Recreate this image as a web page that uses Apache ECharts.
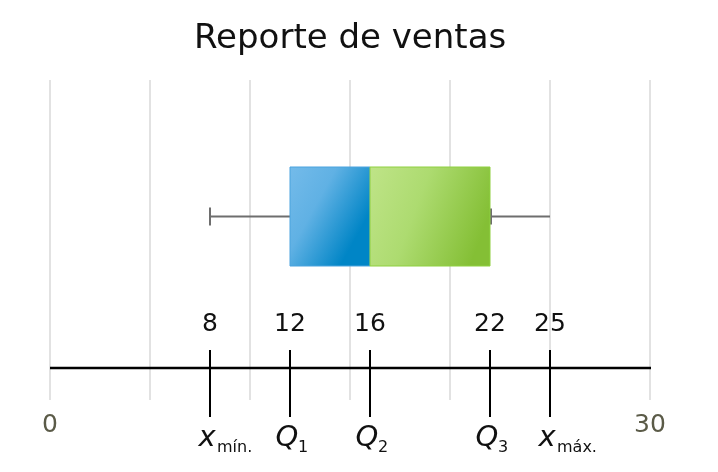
<!DOCTYPE html>
<html>
<head>
<meta charset="utf-8">
<script src="https://cdn.jsdelivr.net/npm/echarts@6/dist/echarts.min.js"></script>
<style>html,body{margin:0;padding:0;background:#fff;}#c{width:718px;height:472px;}</style>
</head>
<body>
<div id="c"></div>
<script>
const titleText = 'Reporte de ventas';
const statValues = [8, 12, 16, 22, 25];
const statNames = ['x', 'Q', 'Q', 'Q', 'x'];
const statSubs = ['mín.', '1', '2', '3', 'máx.'];
const axisMin = 0;
const axisMax = 30;
const axisStep = 5;
const axisShownLabels = ['0', '30'];

const FONT = '"DejaVu Sans", Verdana, sans-serif';
const chart = echarts.init(document.getElementById('c'), null, {renderer: 'canvas'});

const blueGrad = new echarts.graphic.LinearGradient(0, 0, 1, 0.45, [
  {offset: 0, color: '#74bbea'},
  {offset: 0.45, color: '#60b1e4'},
  {offset: 1, color: '#0085c6'}
]);
const greenGrad = new echarts.graphic.LinearGradient(0, 0, 1, 0.45, [
  {offset: 0, color: '#bfe488'},
  {offset: 0.45, color: '#addb70'},
  {offset: 1, color: '#84bf35'}
]);
const whisker = {stroke: '#6e6e6e', lineWidth: 2};
const halfW = {x: 9, Q: 10};

const option = {
  backgroundColor: '#ffffff',
  animation: false,
  title: {
    text: titleText,
    left: 189,
    top: 17,
    textStyle: {fontFamily: FONT, fontSize: 34, fontWeight: 'normal', color: '#111111'}
  },
  grid: {left: 50, width: 600, top: 80, height: 320},
  xAxis: {
    type: 'value', min: axisMin, max: axisMax, interval: axisStep,
    axisLine: {show: false}, axisTick: {show: false},
    splitLine: {show: true, lineStyle: {color: '#d8d8d8', width: 1.5}},
    axisLabel: {
      margin: 13,
      fontFamily: FONT, fontSize: 25, color: '#5b5b48',
      formatter: function (v) { const s = String(v); return axisShownLabels.indexOf(s) >= 0 ? s : ''; }
    }
  },
  yAxis: {type: 'value', min: 0, max: 1, show: false},
  series: [
    {
      type: 'custom', name: 'linea',
      data: [[axisMin, axisMax]],
      renderItem: function (params, api) {
        const cs = params.coordSys;
        const y = cs.y + 288;
        const a = api.coord([api.value(0), 0])[0];
        const b = api.coord([api.value(1), 0])[0];
        return {type: 'line', shape: {x1: a, y1: y, x2: b + 1, y2: y}, style: {stroke: '#000', lineWidth: 2.5}};
      }
    },
    {
      type: 'custom', name: 'caja',
      data: [statValues],
      encode: {x: [0, 1, 2, 3, 4]},
      renderItem: function (params, api) {
        const cs = params.coordSys;
        const cy = cs.y + 136.5;
        const h = 99;
        const px = [0, 1, 2, 3, 4].map(function (i) { return api.coord([api.value(i), 0])[0]; });
        return {type: 'group', children: [
          {type: 'line', shape: {x1: px[0], y1: cy, x2: px[1], y2: cy}, style: whisker},
          {type: 'line', shape: {x1: px[3], y1: cy, x2: px[4], y2: cy}, style: whisker},
          {type: 'line', shape: {x1: px[0], y1: cy - 9, x2: px[0], y2: cy + 9}, style: whisker},
          {type: 'line', shape: {x1: px[3] + 1, y1: cy - 8, x2: px[3] + 1, y2: cy + 8}, style: whisker},
          {type: 'rect', shape: {x: px[1], y: cy - h / 2, width: px[2] - px[1], height: h},
            style: {fill: blueGrad, stroke: '#4aa3de', lineWidth: 1}},
          {type: 'rect', shape: {x: px[2], y: cy - h / 2, width: px[3] - px[2], height: h},
            style: {fill: greenGrad, stroke: '#8fd040', lineWidth: 1}}
        ]};
      }
    },
    {
      type: 'custom', name: 'marcas',
      data: statValues.map(function (v, i) { return [v, i]; }),
      renderItem: function (params, api) {
        const cs = params.coordSys;
        const x = api.coord([api.value(0), 0])[0];
        const i = api.value(1);
        const nm = statNames[i];
        return {type: 'group', children: [
          {type: 'line', shape: {x1: x, y1: cs.y + 270, x2: x, y2: cs.y + 337}, style: {stroke: '#000', lineWidth: 2}},
          {type: 'text', style: {text: String(statValues[i]), x: x, y: cs.y + 244, align: 'center', verticalAlign: 'middle',
            font: '25px ' + FONT, fill: '#111'}},
          {type: 'text', style: {text: nm, x: x - 3, y: cs.y + 358, align: 'center', verticalAlign: 'middle',
            font: 'italic 29px ' + FONT, fill: '#111'}},
          {type: 'text', style: {text: statSubs[i], x: x - 3 + halfW[nm] + 1, y: cs.y + 368, align: 'left', verticalAlign: 'middle',
            font: '16px ' + FONT, fill: '#111'}}
        ]};
      }
    }
  ]
};
chart.setOption(option);
</script>
</body>
</html>
